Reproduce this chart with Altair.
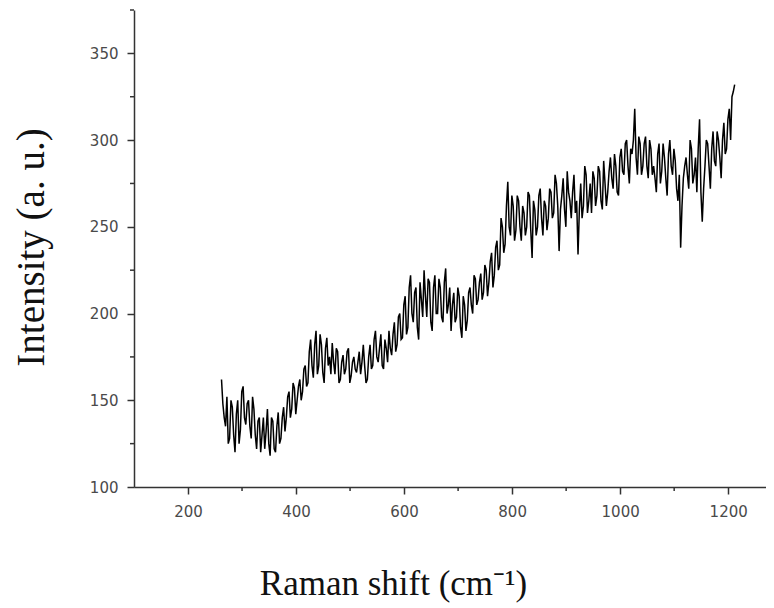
import altair as alt
import pandas as pd

# Raman shift (cm^-1): main samples every 5 cm^-1 from 262,
# plus in-between samples offset by 2.5 cm^-1
shift_start = 262
shift_step = 5
intensity = [
    162, 140, 152, 128, 146, 120, 150, 133, 158, 136,
    150, 128, 145, 122, 140, 130, 122, 145, 118, 138,
    120, 143, 128, 146, 140, 155, 145, 157, 150, 162,
    155, 170, 160, 185, 163, 190, 170, 182, 160, 186,
    175, 183, 165, 178, 162, 176, 168, 180, 164, 175,
    166, 178, 172, 170, 162, 182, 170, 190, 172, 188,
    168, 180, 190, 176, 195, 182, 200, 186, 210, 192,
    222, 195, 215, 185, 208, 225, 198, 218, 190, 222,
    200, 215, 195, 226, 205, 190, 212, 198, 210, 186,
    205, 196, 215, 200, 220, 208, 223, 212, 225, 218,
    235, 222, 242, 228, 250, 240, 276, 245, 262, 248,
    265, 242, 258, 250, 268, 232, 260, 250, 272, 245,
    262, 255, 270, 258, 275, 236, 268, 260, 282, 265,
    270, 258, 234, 275, 262, 280, 265, 258, 278, 268,
    282, 260, 275, 270, 290, 272, 285, 268, 295, 280,
    300, 275, 292, 318, 280, 298, 285, 302, 278, 295,
    285, 270, 298, 282, 290, 268, 300, 280, 288, 265,
    238, 278, 290, 272, 295, 280, 270, 312, 253, 285,
    298, 272, 305, 285, 300, 278, 310, 295, 318, 325,
    332,
]
intensity_mid = [
    148, 135, 125, 150, 130, 142, 125, 155, 140, 148,
    135, 152, 130, 138, 120, 140, 132, 125, 140, 122,
    135, 125, 140, 132, 152, 140, 160, 142, 158, 150,
    168, 158, 178, 170, 182, 165, 188, 166, 180, 170,
    165, 172, 180, 160, 172, 165, 178, 160, 172, 168,
    172, 165, 182, 160, 175, 168, 185, 175, 180, 170,
    185, 172, 180, 188, 178, 198, 185, 205, 188, 215,
    200, 212, 192, 218, 198, 210, 220, 195, 215, 200,
    220, 198, 218, 200, 215, 205, 195, 215, 192, 210,
    190, 212, 205, 222, 205, 218, 208, 228, 210, 230,
    215, 238, 225, 255, 235, 262, 250, 268, 242, 268,
    250, 262, 245, 270, 248, 265, 245, 268, 255, 265,
    248, 272, 255, 280, 262, 260, 278, 250, 270, 255,
    280, 265, 260, 255, 285, 258, 275, 282, 262, 285,
    265, 288, 262, 282, 278, 292, 270, 290, 282, 298,
    285, 295, 300, 290, 302, 280, 298, 285, 300, 280,
    278, 292, 275, 298, 278, 292, 285, 295, 272, 280,
    262, 285, 280, 300, 275, 290, 295, 270, 272, 300,
    285, 295, 288, 305, 290, 300, 292, 312, 300, 328,
]
shift = [shift_start + i * shift_step for i in range(len(intensity))]
shift_mid = [shift_start + 2.5 + i * shift_step for i in range(len(intensity_mid))]

x_major = [200, 400, 600, 800, 1000, 1200]
x_minor = [300, 500, 700, 900, 1100]
y_major = [100, 150, 200, 250, 300, 350]
y_minor = [125, 175, 225, 275, 325, 375]

df = pd.DataFrame({"shift": shift + shift_mid,
                   "intensity": intensity + intensity_mid}).sort_values("shift")
df_xminor = pd.DataFrame({"v": x_minor})
df_yminor = pd.DataFrame({"v": y_minor})

W, H = 632, 477
xscale = alt.Scale(domain=[100, 1270], nice=False, zero=False)
yscale = alt.Scale(domain=[100, 375], nice=False, zero=False)

axis_common = dict(
    domainColor="#333333", domainWidth=1.5,
    tickColor="#333333", tickWidth=1.5, tickSize=7,
    labelFont="DejaVu Sans", labelFontSize=15, labelColor="#4a4a4a",
    format="d",
    titleFont="Liberation Serif", titleFontWeight="normal", titleColor="#111111",
    grid=False,
)

line = alt.Chart(df).mark_line(color="black", strokeWidth=1.5).encode(
    x=alt.X("shift:Q", scale=xscale,
            axis=alt.Axis(values=x_major, title="Raman shift (cm⁻¹)",
                          labelPadding=10, titleFontSize=35,
                          titleX=259, titleY=107, titleAlign="center",
                          titleBaseline="alphabetic", **axis_common)),
    y=alt.Y("intensity:Q", scale=yscale,
            axis=alt.Axis(values=y_major, title="Intensity (a. u.)",
                          labelPadding=9, titleFontSize=39,
                          titleX=-103, titleY=237, titleAngle=270,
                          titleAlign="center", titleBaseline="middle",
                          **axis_common)),
    order="shift:Q",
)

xminor = alt.Chart(df_xminor).mark_rule(color="#333333", strokeWidth=1.5).encode(
    x=alt.X("v:Q", scale=xscale),
    y=alt.value(H), y2=alt.value(H + 4),
)
yminor = alt.Chart(df_yminor).mark_rule(color="#333333", strokeWidth=1.5).encode(
    y=alt.Y("v:Q", scale=yscale),
    x=alt.value(-4), x2=alt.value(0),
)

chart = alt.layer(line, xminor, yminor).properties(
    width=W, height=H,
    padding={"left": 126, "top": 2, "right": 0, "bottom": 118},
    autosize=alt.AutoSizeParams(type="none"),
).configure_view(stroke=None)

chart.save("out.html", embed_options={"renderer": "svg", "actions": False})
